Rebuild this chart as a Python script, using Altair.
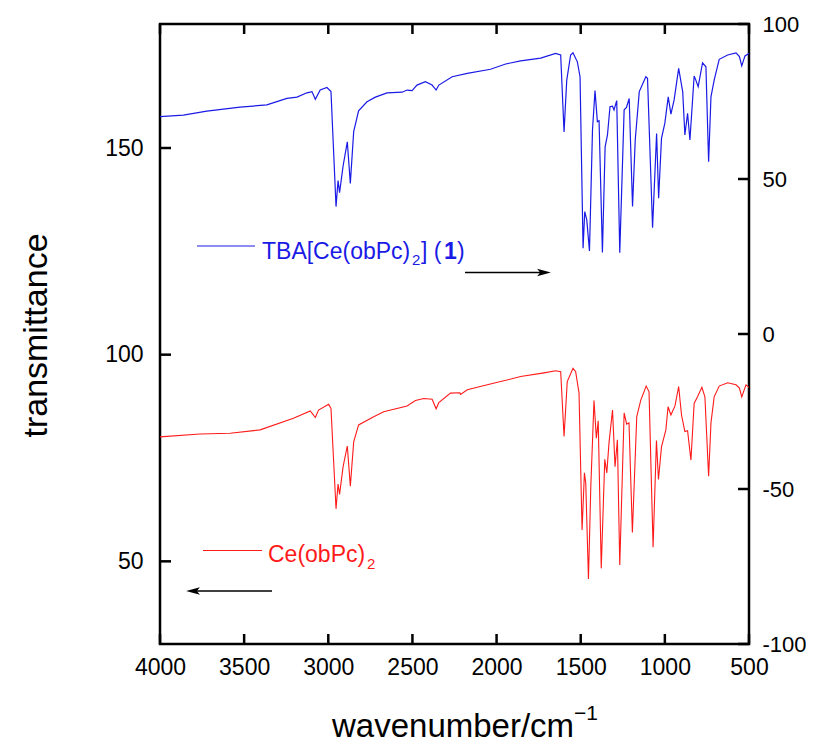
import altair as alt
import pandas as pd

# ---------------- data ----------------
blue_wn = [4000, 3861, 3722, 3524, 3365, 3246, 3186, 3127, 3097, 3077, 3048, 3008, 2984,
           2954, 2942, 2933, 2912, 2887, 2869, 2849, 2820, 2770, 2720, 2651, 2561, 2532,
           2502, 2473, 2423, 2383, 2359, 2343, 2264, 2174, 2036, 1946, 1857, 1738, 1649,
           1619, 1599, 1583, 1560, 1546, 1520, 1504, 1486, 1476, 1464, 1448, 1430, 1415,
           1401, 1391, 1371, 1355, 1341, 1326, 1311, 1302, 1286, 1268, 1242, 1228, 1212,
           1192, 1176, 1152, 1113, 1103, 1073, 1049, 1037, 1020, 1000, 980, 964, 945, 918,
           894, 881, 865, 851, 826, 816, 802, 776, 756, 740, 726, 707, 677, 627, 577, 557,
           543, 524, 500]
blue_T = [70.1, 70.6, 71.9, 73.2, 73.9, 76.0, 76.4, 77.8, 78.2, 75.7, 78.7, 79.5, 78.2,
          41.1, 49.5, 45.6, 54.2, 62.0, 48.6, 65.3, 72.0, 74.9, 76.4, 77.8, 78.0, 78.7,
          78.5, 80.3, 81.4, 80.3, 78.7, 80.3, 83.0, 84.1, 85.4, 87.1, 88.1, 89.0, 90.5,
          90.0, 65.2, 81.9, 90.0, 90.7, 87.8, 83.0, 27.7, 39.5, 36.8, 26.8, 65.8, 78.5,
          68.5, 68.8, 26.3, 60.4, 64.2, 73.3, 73.5, 72.3, 75.3, 26.2, 72.3, 73.1, 76.0,
          41.1, 62.6, 78.2, 83.0, 82.5, 34.3, 64.7, 43.8, 63.1, 68.0, 76.5, 70.9, 75.5, 85.7,
          78.2, 64.2, 71.2, 62.6, 83.2, 81.9, 79.8, 87.5, 86.2, 55.6, 76.5, 81.9, 88.6, 90.0,
          90.7, 89.5, 86.5, 89.7, 90.5]

red_wn = [4000, 3762, 3583, 3405, 3207, 3107, 3077, 3058, 2998, 2984, 2954, 2942, 2933,
          2912, 2887, 2869, 2849, 2820, 2730, 2671, 2532, 2482, 2433, 2383, 2359, 2343,
          2274, 2218, 2214, 2174, 2055, 1976, 1857, 1718, 1649, 1619, 1599, 1580, 1546,
          1530, 1510, 1492, 1478, 1470, 1454, 1440, 1421, 1407, 1396, 1378, 1357, 1345,
          1332, 1311, 1296, 1282, 1268, 1242, 1227, 1213, 1193, 1167, 1143, 1111, 1094,
          1070, 1050, 1038, 1020, 994, 981, 964, 940, 918, 901, 881, 865, 845, 826, 806,
          780, 762, 740, 726, 707, 677, 627, 577, 557, 543, 518, 500]
red_T = [80.1, 80.8, 81.0, 81.8, 84.6, 86.4, 84.8, 86.6, 88.0, 87.0, 62.7, 68.7, 66.2,
         72.9, 77.9, 68.2, 78.9, 83.0, 85.0, 86.2, 87.6, 88.9, 89.4, 89.2, 86.9, 88.4,
         90.7, 90.8, 90.4, 91.5, 92.7, 93.5, 94.7, 95.6, 96.1, 95.9, 80.2, 93.5, 96.7,
         95.9, 90.7, 57.6, 71.4, 68.9, 45.7, 68.1, 88.9, 79.8, 84.0, 48.3, 74.7, 71.4,
         78.6, 86.6, 72.9, 79.4, 49.1, 85.9, 83.2, 83.5, 57.0, 85.0, 89.0, 92.4, 91.0,
         53.4, 79.2, 69.8, 77.7, 81.8, 87.4, 85.4, 87.6, 92.3, 85.4, 81.4, 81.6, 74.5,
         88.2, 89.8, 92.1, 89.8, 70.6, 83.5, 89.8, 92.4, 93.2, 92.7, 91.9, 89.8, 92.7, 92.1]

x_ticks = [4000, 3500, 3000, 2500, 2000, 1500, 1000, 500]
left_ticks = [50, 100, 150]
right_ticks = [-100, -50, 0, 50, 100]

blue_label = "TBA[Ce(obPc)"
red_label = "Ce(obPc)"
x_title = "wavenumber/cm"
y_title = "transmittance"

# ---------------- chart ----------------
W, H = 589, 620
FONT = "Liberation Sans"
BLUE = "#1a1ae6"
RED = "#ff1a1a"
TK = 10

xscale = alt.Scale(domain=[500, 4000], reverse=True, nice=False, zero=False)
red_scale = alt.Scale(domain=[30, 180], nice=False, zero=False)
blue_scale = alt.Scale(domain=[-100, 100], nice=False, zero=False)

xaxis = alt.Axis(values=x_ticks, tickSize=0, labelPadding=12, labelFontSize=23,
                 labelFont=FONT, labelColor="black", domain=False, grid=False,
                 title=None, labelFlush=False, labelOverlap=False, format="d")

red_df = pd.DataFrame({"wn": red_wn, "T": red_T})
blue_df = pd.DataFrame({"wn": blue_wn, "T": blue_T})
one = pd.DataFrame({"a": [0]})

red_line = alt.Chart(red_df).mark_line(color=RED, strokeWidth=1.1).encode(
    x=alt.X("wn:Q", scale=xscale, axis=xaxis),
    y=alt.Y("T:Q", scale=red_scale, axis=alt.Axis(
        orient="left", values=left_ticks, tickSize=0, labelPadding=17,
        labelFontSize=23, labelFont=FONT, labelColor="black", domain=False,
        grid=False, title=y_title, titleFont=FONT, titleFontSize=34,
        titleFontWeight="normal", titleColor="black", titleX=-114, titleY=H / 2 + 1,
        titleAlign="center", titleBaseline="alphabetic")),
)

blue_line = alt.Chart(blue_df).mark_line(color=BLUE, strokeWidth=1.2).encode(
    x=alt.X("wn:Q", scale=xscale, axis=xaxis),
    y=alt.Y("T:Q", scale=blue_scale, axis=alt.Axis(
        orient="right", values=right_ticks, tickSize=0, labelPadding=13,
        labelFontSize=22, labelFont=FONT, labelColor="black", domain=False,
        grid=False, title=None, labelExpr="datum.value")),
)

xt_df = pd.DataFrame({"t": x_ticks})
bottom_ticks = alt.Chart(xt_df).mark_rule(color="black", strokeWidth=2.5).encode(
    x=alt.X("t:Q", scale=xscale, axis=xaxis), y=alt.value(H - TK), y2=alt.value(H))
top_ticks = alt.Chart(xt_df).mark_rule(color="black", strokeWidth=2.5).encode(
    x=alt.X("t:Q", scale=xscale, axis=xaxis), y=alt.value(0), y2=alt.value(TK))
left_tk = alt.Chart(pd.DataFrame({"t": left_ticks})).mark_rule(color="black", strokeWidth=2.5).encode(
    y=alt.Y("t:Q", scale=red_scale, axis=None), x=alt.value(0), x2=alt.value(TK + 1))
right_tk = alt.Chart(pd.DataFrame({"t": right_ticks})).mark_rule(color="black", strokeWidth=2.5).encode(
    y=alt.Y("t:Q", scale=blue_scale, axis=None), x=alt.value(W - TK - 1), x2=alt.value(W))

def txt(s, x, y, size, color, weight="normal"):
    return alt.Chart(one).mark_text(text=s, font=FONT, fontSize=size, color=color,
                                    fontWeight=weight, align="left",
                                    baseline="alphabetic").encode(
        x=alt.value(x), y=alt.value(y))

def seg(x1, x2, y, color, w=1.2):
    return alt.Chart(one).mark_rule(color=color, strokeWidth=w).encode(
        x=alt.value(x1), x2=alt.value(x2), y=alt.value(y))

arrow_r = "M -1 -0.55 L 1 0 L -1 0.55 L -0.55 0 Z"
arrow_l = "M 1 -0.55 L -1 0 L 1 0.55 L 0.55 0 Z"

annotations = [
    seg(37, 95, 222, BLUE),
    txt(blue_label, 102, 235, 23, BLUE),
    txt("2", 252, 241, 15, BLUE),
    txt("] (", 261, 235, 23, BLUE),
    txt("1", 284, 235, 23, BLUE, "bold"),
    txt(")", 297, 235, 23, BLUE),
    seg(305, 386, 248.5, "black", 1.3),
    alt.Chart(one).mark_point(shape=arrow_r, filled=True, color="black", size=190, opacity=1).encode(
        x=alt.value(384), y=alt.value(248.5)),
    seg(43, 102, 526.5, RED),
    txt(red_label, 108, 538, 23, RED),
    txt("2", 207, 545, 15, RED),
    seg(30, 112, 567, "black", 1.3),
    alt.Chart(one).mark_point(shape=arrow_l, filled=True, color="black", size=190, opacity=1).encode(
        x=alt.value(33), y=alt.value(567)),
    txt(x_title, 172, 713, 33, "black"),
    txt("\u22121", 414, 696, 21, "black"),
]

chart = alt.layer(red_line, blue_line, bottom_ticks, top_ticks, left_tk, right_tk,
                  *annotations).resolve_scale(y="independent").properties(
    width=W, height=H,
    padding={"left": 152, "top": 16, "right": 57, "bottom": 100},
    autosize=alt.AutoSizeParams(type="none"),
).configure_view(stroke="black", strokeWidth=2.5)

chart.save("out.html", embed_options={"renderer": "svg", "actions": False})
